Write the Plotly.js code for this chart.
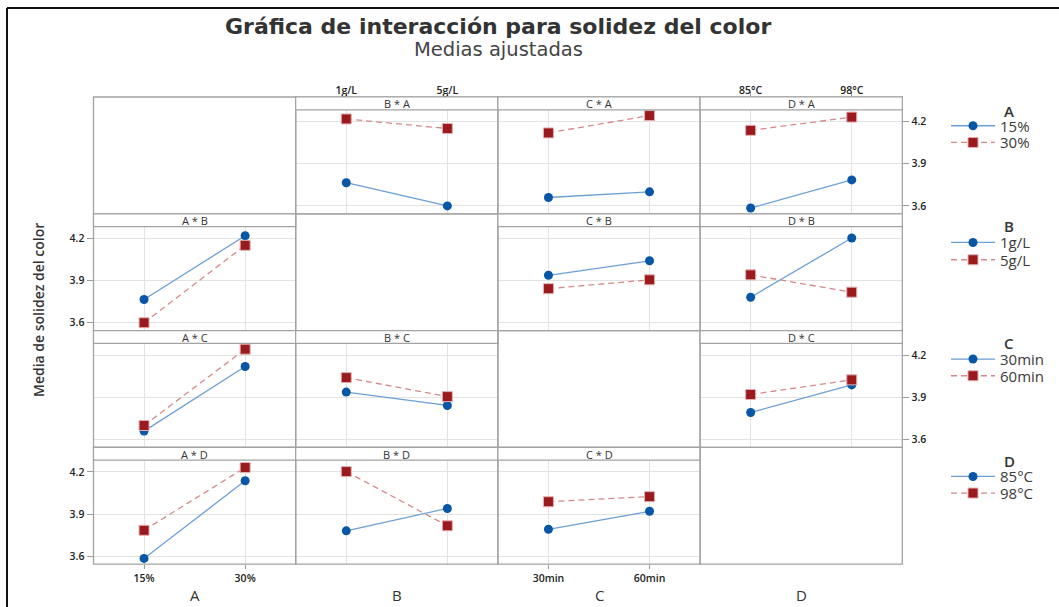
<!DOCTYPE html>
<html>
<head>
<meta charset="utf-8">
<script src="https://cdn.plot.ly/plotly-3.0.1.min.js"></script>
<style>html,body{margin:0;padding:0;background:#fff;}#chart{width:1059px;height:607px;}</style>
</head>
<body>
<div id="chart"></div>
<script>
// ---- data ----
const factors = ['A', 'B', 'C', 'D'];
const levelsA = ['15%', '30%'];
const levelsB = ['1g/L', '5g/L'];
const levelsC = ['30min', '60min'];
const levelsD = ['85°C', '98°C'];
// interaction means: rows = levels of first factor, cols = levels of second factor
const meansAB = [[3.765, 3.600], [4.218, 4.150]];
const meansAC = [[3.660, 3.700], [4.119, 4.242]];
const meansAD = [[3.585, 3.785], [4.137, 4.231]];
const meansBC = [[3.937, 4.040], [3.842, 3.905]];
const meansBD = [[3.781, 4.202], [3.940, 3.817]];
const meansCD = [[3.792, 3.988], [3.920, 4.024]];
const yTicks = [3.6, 3.9, 4.2];
const titleText = 'Gráfica de interacción para solidez del color';
const subtitleText = 'Medias ajustadas';
const yTitleText = 'Media de solidez del color';

// ---- helpers ----
const levels = {A: levelsA, B: levelsB, C: levelsC, D: levelsD};
const tables = {AB: meansAB, AC: meansAC, AD: meansAD, BC: meansBC, BD: meansBD, CD: meansCD};
function mean(f1, i, f2, j) {
  if (f1 < f2) return tables[f1 + f2][i][j];
  return tables[f2 + f1][j][i];
}
const W = 1059, H = 607;
const px = v => v / W;
const py = v => 1 - v / H;
const FONT = '"Open Sans", "Noto Sans", sans-serif';
const WIDE = '"DejaVu Sans", "Open Sans", sans-serif';

const X = [93.5, 295.7, 497.9, 700.1, 902.3];
const Y = [97, 213.8, 330.6, 447.4, 564.2];
const STRIP = 12.8;
const YR = [3.544, 4.374];

const blue = {mk: '#0757A6', ln: '#6C9FD6'};
const red = {mk: '#9A1A1D', ln: '#D48A8A', edge: '#E4B0B0'};

const traces = [];
const layout = {
  width: W, height: H,
  margin: {l: 0, r: 0, t: 0, b: 0},
  paper_bgcolor: '#fff', plot_bgcolor: 'rgba(0,0,0,0)',
  font: {family: FONT, color: '#333'},
  shapes: [], annotations: []
};

const tickFont = {family: FONT, size: 10.5, color: '#222', weight: 600};
let n = 0;
const legendSlots = {};
const legendY = [[126, 142.7], [242.7, 260], [359.3, 376], [476.7, 493.3]];
const groupTitleY = [110.5, 226.5, 343, 460.5];
let legendCount = 0;

for (let r = 0; r < 4; r++) {
  for (let c = 0; c < 4; c++) {
    layout.shapes.push({type: 'rect', xref: 'paper', yref: 'paper', layer: 'above',
      x0: px(X[c]), x1: px(X[c + 1]), y0: py(Y[r + 1]), y1: py(Y[r]),
      line: {color: '#a3a3a3', width: 1.3}});
    if (r === c) continue;
    n++;
    const xs = n === 1 ? 'x' : 'x' + n;
    const ys = n === 1 ? 'y' : 'y' + n;
    const xk = n === 1 ? 'xaxis' : 'xaxis' + n;
    const yk = n === 1 ? 'yaxis' : 'yaxis' + n;
    const fx = factors[c], fl = factors[r];
    const xl = levels[fx];
    const showTop = (r === 0 && (c === 1 || c === 3));
    const showBottom = (r === 3 && (c === 0 || c === 2));
    const showLeft = (c === 0 && (r === 1 || r === 3));
    const showRight = (c === 3 && (r === 0 || r === 2));
    layout[xk] = {
      domain: [px(X[c]), px(X[c + 1])], anchor: ys,
      type: 'category', range: [-0.5, 1.5],
      showgrid: true, gridcolor: '#e3e3e3', gridwidth: 1, zeroline: false, showline: false,
      side: showTop ? 'top' : 'bottom',
      showticklabels: showTop || showBottom,
      ticks: (showTop || showBottom) ? 'outside' : '', ticklen: 4, tickcolor: '#9a9a9a',
      ticklabelstandoff: showTop ? -6 : 0,
      tickfont: tickFont, fixedrange: true
    };
    layout[yk] = {
      domain: [py(Y[r + 1]), py(Y[r])], anchor: xs,
      range: YR, tickvals: yTicks, ticktext: yTicks.map(v => v.toFixed(1)),
      showgrid: true, gridcolor: '#e3e3e3', gridwidth: 1, zeroline: false, showline: false,
      side: showRight ? 'right' : 'left',
      showticklabels: showLeft || showRight,
      ticks: (showLeft || showRight) ? 'outside' : '', ticklen: 6, tickcolor: '#9a9a9a',
      tickfont: tickFont, fixedrange: true
    };
    layout.shapes.push({type: 'rect', xref: 'paper', yref: 'paper', layer: 'above',
      x0: px(X[c]), x1: px(X[c + 1]), y0: py(Y[r] + STRIP), y1: py(Y[r]),
      fillcolor: '#ffffff', line: {color: '#a3a3a3', width: 1.2}});
    layout.annotations.push({xref: 'paper', yref: 'paper', x: px((X[c] + X[c + 1]) / 2), y: py(Y[r] + STRIP / 2 + 0.3),
      text: fx + ' * ' + fl, showarrow: false, xanchor: 'center', yanchor: 'middle',
      font: {family: FONT, size: 11, color: '#333'}});
    const ll = levels[fl];
    for (let k = 0; k < 2; k++) {
      const isBlue = k === 0;
      const first = !legendSlots[r + '_' + k];
      let legendName = null;
      if (first) {
        legendSlots[r + '_' + k] = true;
        legendCount++;
        legendName = legendCount === 1 ? 'legend' : 'legend' + legendCount;
        layout[legendName] = {
          x: px(946), y: py(legendY[r][k]), xanchor: 'left', yanchor: 'middle',
          bgcolor: 'rgba(0,0,0,0)', borderwidth: 0, itemwidth: 44,
          font: {family: FONT, size: 15, color: '#3a3a3a'},
          itemclick: false, itemdoubleclick: false
        };
      }
      traces.push({
        type: 'scatter', mode: 'lines+markers', xaxis: xs, yaxis: ys,
        x: xl, y: [mean(fl, k, fx, 0), mean(fl, k, fx, 1)],
        name: ll[k], showlegend: first, legend: legendName || 'legend',
        line: isBlue ? {color: blue.ln, width: 1.3} : {color: red.ln, width: 1.3, dash: '6px,4px'},
        marker: isBlue ? {symbol: 'circle', size: 9, color: blue.mk}
                       : {symbol: 'square', size: 10, color: red.mk, line: {color: red.edge, width: 1}},
        hoverinfo: 'x+y+name'
      });
    }
  }
}

for (let r = 0; r < 4; r++) {
  layout.annotations.push({xref: 'paper', yref: 'paper', x: px(1002), y: py(groupTitleY[r]),
    text: factors[r], showarrow: false, xanchor: 'left', yanchor: 'middle',
    font: {family: FONT, size: 15, color: '#333', weight: 600}});
}
for (let c = 0; c < 4; c++) {
  layout.annotations.push({xref: 'paper', yref: 'paper', x: px((X[c] + X[c + 1]) / 2), y: py(594.5),
    text: factors[c], showarrow: false, xanchor: 'center', yanchor: 'middle',
    font: {family: FONT, size: 15, color: '#333'}});
}
layout.annotations.push({xref: 'paper', yref: 'paper', x: px(498), y: py(26),
  text: titleText, showarrow: false, xanchor: 'center', yanchor: 'middle',
  font: {family: WIDE, size: 22, color: '#333', weight: 700}});
layout.annotations.push({xref: 'paper', yref: 'paper', x: px(498), y: py(49.5),
  text: subtitleText, showarrow: false, xanchor: 'center', yanchor: 'middle',
  font: {family: WIDE, size: 19.5, color: '#444'}});
layout.annotations.push({xref: 'paper', yref: 'paper', x: px(38), y: py(310),
  text: yTitleText, showarrow: false, xanchor: 'center', yanchor: 'middle', textangle: -90,
  font: {family: FONT, size: 14, color: '#333', weight: 600}});
layout.shapes.push({type: 'line', xref: 'paper', yref: 'paper', x0: px(7), x1: 1, y0: py(8), y1: py(8), line: {color: '#111', width: 2}});
layout.shapes.push({type: 'line', xref: 'paper', yref: 'paper', x0: px(7), x1: px(7), y0: py(8), y1: 0, line: {color: '#111', width: 2}});

Plotly.newPlot('chart', traces, layout, {displayModeBar: false, staticPlot: true});
</script>
</body>
</html>
